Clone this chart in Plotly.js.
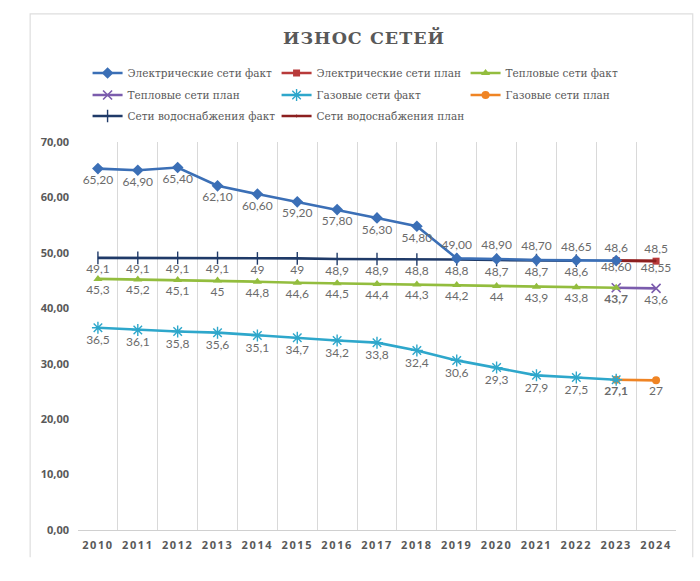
<!DOCTYPE html>
<html>
<head>
<meta charset="utf-8">
<script src="https://cdn.plot.ly/plotly-3.0.1.min.js"></script>
<style>
  body { margin: 0; background: #fff; }
  #graph { width: 700px; height: 581px; }
  #graph .xtick text { letter-spacing: 1.6px; }
  #graph .gtitle { letter-spacing: 1px; }
</style>
</head>
<body>
<div id="graph"></div>
<script>
/* ----- Data ----- */
var years = ['2010', '2011', '2012', '2013', '2014', '2015', '2016', '2017',
             '2018', '2019', '2020', '2021', '2022', '2023', '2024'];
var factYears = years.slice(0, 14);   // 2010-2023
var waterYears = years.slice(0, 13);  // 2010-2022
var planYears = ['2023', '2024'];

var elecFact  = [65.2, 64.9, 65.4, 62.1, 60.6, 59.2, 57.8, 56.3, 54.8, 49.0, 48.9, 48.7, 48.65, 48.6];
var elecPlan  = [48.6, 48.5];
var heatFact  = [45.3, 45.2, 45.1, 45, 44.8, 44.6, 44.5, 44.4, 44.3, 44.2, 44, 43.9, 43.8, 43.7];
var heatPlan  = [43.7, 43.6];
var gasFact   = [36.5, 36.1, 35.8, 35.6, 35.1, 34.7, 34.2, 33.8, 32.4, 30.6, 29.3, 27.9, 27.5, 27.1];
var gasPlan   = [27.1, 27];
var waterFact = [49.1, 49.1, 49.1, 49.1, 49, 49, 48.9, 48.9, 48.8, 48.8, 48.7, 48.7, 48.6];
var waterPlan = [48.6, 48.55];

/* ----- Helpers ----- */
// decimal comma labels, optional fixed decimals
function labels(vals, dec) {
    return vals.map(function (v) {
        var s = (dec == null) ? String(v) : v.toFixed(dec);
        return s.replace('.', ',');
    });
}
// the 2023 fact point shares its label with the plan series
function dropLast(arr) { var a = arr.slice(); a[a.length - 1] = ''; return a; }
function boldFirst(arr) { var a = arr.slice(); a[0] = '<b>' + a[0] + '</b>'; return a; }

var labelFont = { family: 'Lato, "Open Sans", sans-serif', size: 12, color: '#6b6b6b' };

function series(name, x, y, text, pos, color, symbol, size, extra) {
    var t = {
        name: name,
        x: x,
        y: y,
        type: 'scatter',
        mode: 'lines+markers+text',
        text: text,
        textposition: pos,
        textfont: labelFont,
        cliponaxis: false,
        line: { color: color, width: 2.6 },
        marker: { color: color, symbol: symbol, size: size },
        hoverinfo: 'x+y+name'
    };
    if (extra) t.marker.line = extra;
    return t;
}

// electric labels sit below until 2018, above afterwards
var elecPos = factYears.map(function (y) { return +y <= 2018 ? 'bottom center' : 'top center'; });

/* ----- Traces ----- */
var eF = series('Электрические сети факт', factYears, elecFact, dropLast(labels(elecFact, 2)), elecPos, '#3b6fb6', 'diamond', 9);
var eP = series('Электрические сети план', planYears, elecPlan, labels(elecPlan), 'top center', '#b83a3a', 'square', 7);
var hF = series('Тепловые сети факт', factYears, heatFact, dropLast(labels(heatFact)), 'bottom center', '#93bd3e', 'triangle-up', 8);
var hP = series('Тепловые сети план', planYears, heatPlan, boldFirst(labels(heatPlan)), 'bottom center', '#7b5cad', 'x-thin-open', 9,
                { color: '#7b5cad', width: 1.6 });
var gF = series('Газовые сети факт', factYears, gasFact, dropLast(labels(gasFact)), 'bottom center', '#2ea7cb', 'asterisk-open', 10,
                { color: '#2ea7cb', width: 1.4 });
var gP = series('Газовые сети план', planYears, gasPlan, boldFirst(labels(gasPlan)), 'bottom center', '#ef8424', 'circle', 8);
var wF = series('Сети водоснабжения факт', waterYears, waterFact, labels(waterFact), 'bottom center', '#1f3a68', 'line-ns-open', 9,
                { color: '#1f3a68', width: 1.4 });
var wP = series('Сети водоснабжения план', planYears, waterPlan, labels(waterPlan, 2), 'bottom center', '#8c1f1f', 'line-ns-open', 1,
                { color: '#8c1f1f', width: 0 });

// one legend per row, three columns
[eF, eP, hF].forEach(function (t) { t.legend = 'legend'; });
[hP, gF, gP].forEach(function (t) { t.legend = 'legend2'; });
[wF, wP].forEach(function (t) { t.legend = 'legend3'; });
[eF, eP, hF, hP, gF, gP, wF, wP].forEach(function (t, i) { t.legendrank = i + 1; });

// drawing order: plan lines under the fact lines
var data = [eP, hP, gP, wP, wF, eF, hF, gF];

function legendRow(yPix) {
    return {
        orientation: 'h',
        traceorder: 'normal',
        x: 0.016,
        xanchor: 'left',
        y: (530 - yPix) / 388,
        yanchor: 'middle',
        entrywidth: 144,
        entrywidthmode: 'pixels',
        itemwidth: 30,
        font: { family: '"DejaVu Serif", serif', size: 10.5, color: '#595959' },
        bgcolor: 'rgba(0,0,0,0)'
    };
}

var layout = {
    width: 700,
    height: 581,
    paper_bgcolor: '#ffffff',
    plot_bgcolor: '#ffffff',
    separators: ', ',
    margin: { l: 78, r: 24, t: 142, b: 51 },
    title: {
        text: '<b>ИЗНОС СЕТЕЙ</b>',
        font: { family: '"DejaVu Serif", serif', size: 17.5, color: '#595959' },
        x: 0.52,
        xanchor: 'center',
        y: 0.934,
        yanchor: 'middle'
    },
    showlegend: true,
    legend: legendRow(73),
    legend2: legendRow(95),
    legend3: legendRow(116),
    xaxis: {
        type: 'category',
        categoryorder: 'array',
        categoryarray: years,
        range: [-0.5, 14.5],
        tickson: 'boundaries',
        ticks: '',
        ticklabelstandoff: 5,
        showgrid: true,
        gridcolor: '#d9d9d9',
        gridwidth: 1,
        showline: true,
        linecolor: '#d0d0d0',
        linewidth: 1,
        tickfont: { family: '"Open Sans", sans-serif', size: 11, color: '#595959', weight: 'bold' },
        fixedrange: true
    },
    yaxis: {
        range: [0, 70],
        dtick: 10,
        tickformat: '.2f',
        showgrid: false,
        zeroline: false,
        showline: false,
        ticks: '',
        ticklabelstandoff: 8,
        tickfont: { family: '"Open Sans", sans-serif', size: 11, color: '#595959', weight: 'bold' },
        fixedrange: true
    },
    shapes: [{
        type: 'path',
        xref: 'paper',
        yref: 'paper',
        path: 'M -0.08,-0.07 L -0.08,1.33 L 1.028,1.33 L 1.028,-0.07',
        line: { color: '#dedede', width: 1.2 }
    }]
};

var graph = document.getElementById('graph');
Plotly.newPlot(graph, data, layout, { displayModeBar: false, staticPlot: true });
</script>
</body>
</html>
